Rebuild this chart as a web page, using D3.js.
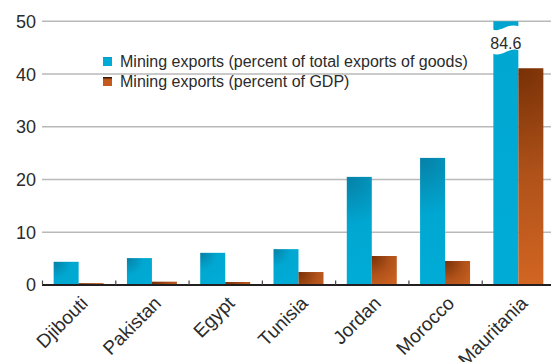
<!DOCTYPE html>
<html>
<head>
<meta charset="utf-8">
<script src="https://cdn.jsdelivr.net/npm/d3@7/dist/d3.min.js"></script>
<style>
  html, body { margin: 0; padding: 0; background: #fff; }
  svg { display: block; font-family: "Liberation Sans", Arial, sans-serif; }
</style>
</head>
<body>
<svg id="chart" width="551" height="362"></svg>
<script>
// Mining exports, selected countries
const countries = ["Djibouti", "Pakistan", "Egypt", "Tunisia", "Jordan", "Morocco", "Mauritania"];
const seriesNames = [
  "Mining exports (percent of total exports of goods)",
  "Mining exports (percent of GDP)"
];
const pctExports = [4.4, 5.1, 6.1, 6.8, 20.5, 24.1, 84.6];
const pctGDP = [0.35, 0.63, 0.57, 2.46, 5.5, 4.55, 41.1];
const yTicks = [0, 10, 20, 30, 40, 50];

(function () {
const svg = d3.select("#chart");
const W = 551;
const plotLeft = 42, plotRight = 555, plotTop = 21.3, plotBottom = 285;

const x0 = d3.scaleBand().domain(countries).range([plotLeft, plotRight]).padding(0);
const x1 = d3.scaleBand().domain([0, 1]).range([0, x0.bandwidth()])
  .paddingInner(0).paddingOuter(0.466);
const y = d3.scaleLinear().domain([0, 50]).range([plotBottom, plotTop]);

const defs = svg.append("defs");
defs.append("clipPath").attr("id", "plot-clip")
  .append("rect").attr("x", 0).attr("y", plotTop).attr("width", W).attr("height", plotBottom - plotTop + 2);

// gridlines
svg.append("g")
  .selectAll("line")
  .data(yTicks.filter(d => d > 0))
  .join("line")
  .attr("x1", plotLeft).attr("x2", W)
  .attr("y1", d => y(d)).attr("y2", d => y(d))
  .attr("stroke", "#b9b9b9").attr("stroke-width", 1.6);

// y tick labels
svg.append("g")
  .selectAll("text")
  .data(yTicks)
  .join("text")
  .attr("x", 36).attr("y", d => y(d))
  .attr("dy", "0.36em")
  .attr("text-anchor", "end")
  .attr("font-size", 18)
  .attr("fill", "#2b2b2b")
  .text(d => d);

// shading per bar: radial fade from the top-left corner
const palettes = [
  [["0", "#0780a6"], ["0.45", "#00a7d1"], ["1", "#00acd6"]],
  [["0", "#773006"], ["0.5", "#b0521a"], ["1", "#d26522"]]
];

const bars = [];
countries.forEach((c, i) => {
  [pctExports[i], pctGDP[i]].forEach((v, s) => {
    bars.push({ c, s, v, i });
  });
});

bars.forEach((b, k) => {
  const bx = x0(b.c) + x1(b.s);
  const by = y(b.v);
  const h = y(0) - by;
  const r = Math.max(38, h);
  const g = defs.append("radialGradient")
    .attr("id", "g" + k)
    .attr("gradientUnits", "userSpaceOnUse")
    .attr("cx", bx).attr("cy", by).attr("fx", bx).attr("fy", by).attr("r", r);
  palettes[b.s].forEach(([o, col]) => g.append("stop").attr("offset", o).attr("stop-color", col));
});

svg.append("g").attr("clip-path", "url(#plot-clip)")
  .selectAll("rect")
  .data(bars)
  .join("rect")
  .attr("x", d => x0(d.c) + x1(d.s))
  .attr("y", d => y(d.v))
  .attr("width", x1.bandwidth())
  .attr("height", d => y(0) - y(d.v))
  .attr("fill", (d, k) => `url(#g${k})`);

// axis break on the off-scale bar, with its value
const big = bars.find(d => d.v > 50);
const bx = x0(big.c) + x1(big.s), bw = x1.bandwidth();
const xa = bx - 1, xb = bx + bw + 1;
svg.append("path")
  .attr("d", `M${xa},29.5 C${xa + 9},33 ${xb - 12},22 ${xb},26.5
              L${xb},50.5 C${xb - 10},46 ${xa + 10},58 ${xa},53.5 Z`)
  .attr("fill", "#fff");
svg.append("text")
  .attr("x", bx + bw / 2).attr("y", 49)
  .attr("text-anchor", "middle")
  .attr("font-size", 16)
  .attr("fill", "#2b2b2b")
  .text(d3.format(".1f")(big.v));

// x axis
svg.append("line")
  .attr("x1", plotLeft).attr("x2", W)
  .attr("y1", plotBottom).attr("y2", plotBottom)
  .attr("stroke", "#231f20").attr("stroke-width", 2.2);

svg.append("g")
  .selectAll("line")
  .data(countries.map(c => x0(c)))
  .join("line")
  .attr("x1", d => d + 0.5).attr("x2", d => d + 0.5)
  .attr("y1", plotBottom - 4.5).attr("y2", plotBottom)
  .attr("stroke", "#444").attr("stroke-width", 1.2);

svg.append("g")
  .selectAll("text")
  .data(countries)
  .join("text")
  .attr("transform", c => `translate(${x0(c) + x0.bandwidth() / 2 + 1},${plotBottom + 10}) rotate(-45)`)
  .attr("text-anchor", "end")
  .attr("dy", "0.7em")
  .attr("font-size", 19)
  .attr("fill", "#2b2b2b")
  .text(c => c);

// legend
const legend = svg.append("g").attr("transform", "translate(103,57)");
const swatchFills = [
  ["#0b8ab0", "#00acd6"],
  ["#1a0c06", "#c45a1c"]
];
seriesNames.forEach((name, s) => {
  const row = legend.append("g").attr("transform", `translate(0,${s * 20})`);
  const lg = defs.append("linearGradient").attr("id", "lg" + s)
    .attr("x1", 0).attr("y1", 0).attr("x2", 0).attr("y2", 1);
  lg.append("stop").attr("offset", 0).attr("stop-color", swatchFills[s][0]);
  lg.append("stop").attr("offset", s ? 0.3 : 0.1).attr("stop-color", swatchFills[s][1]);
  lg.append("stop").attr("offset", 1).attr("stop-color", swatchFills[s][1]);
  row.append("rect").attr("width", 9).attr("height", 9).attr("fill", `url(#lg${s})`);
  row.append("text")
    .attr("x", 17).attr("y", 4.5).attr("dy", "0.36em")
    .attr("font-size", 16)
    .attr("fill", "#2b2b2b")
    .text(name);
});
})();
</script>
</body>
</html>
